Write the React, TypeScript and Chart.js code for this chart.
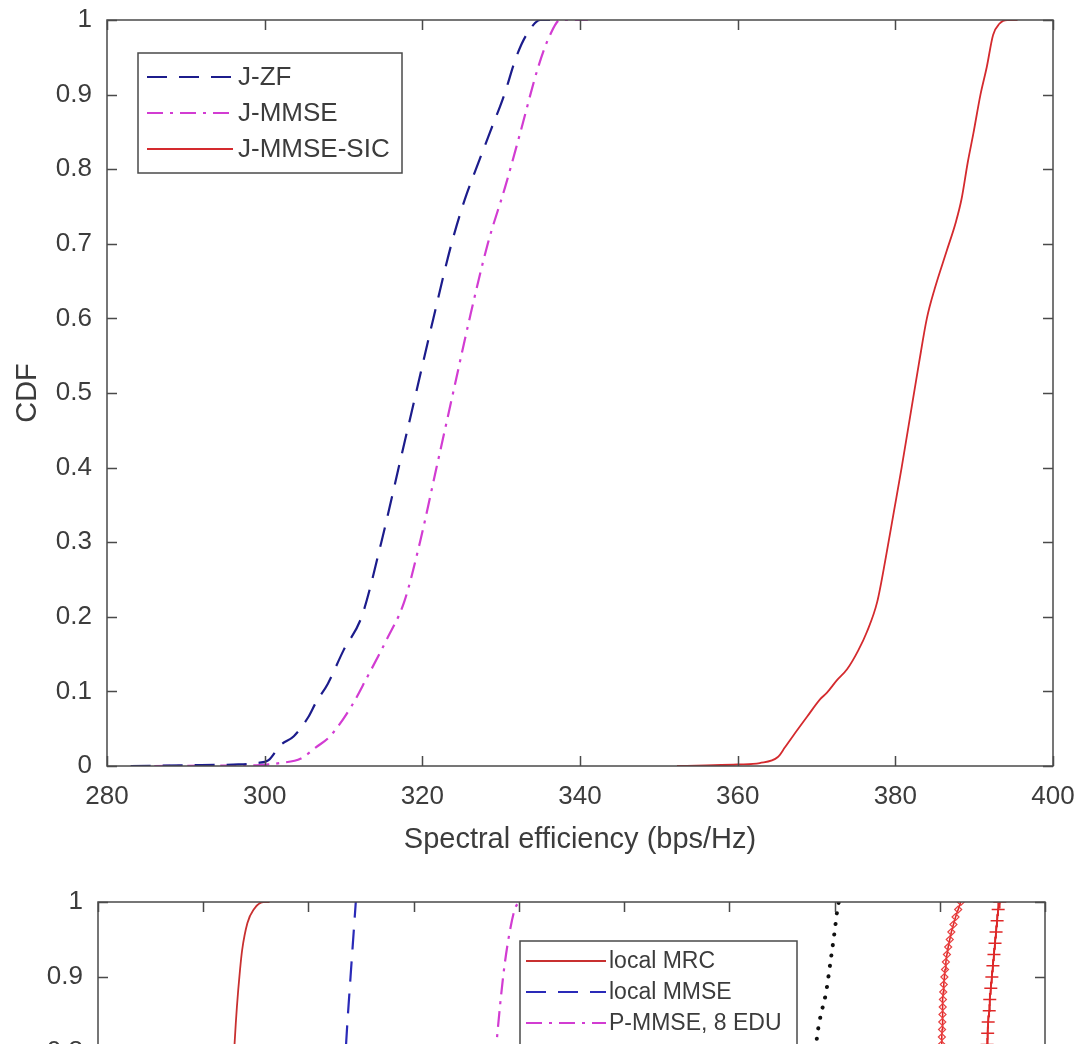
import React, { useEffect, useRef } from 'react';
import { Chart, registerables } from 'chart.js';

Chart.register(...registerables);

const FONT = '"Liberation Sans", Arial, Helvetica, sans-serif';
const TEXT = '#3c3c3c';
const AXIS = '#4a4a4a';

// ---------- Top chart data ----------
const topXTicks = [280, 300, 320, 340, 360, 380, 400];
const cdfTicks = [0, 0.1, 0.2, 0.3, 0.4, 0.5, 0.6, 0.7, 0.8, 0.9, 1];

const jzfSE = [283, 290, 296, 299, 300.5, 302, 303.7, 305.5, 306.5, 308, 310, 312.3, 314.8, 317, 319.2, 321.4, 323.7, 325.4, 326.8, 328.6, 330.4, 331.9, 333.2, 335, 337];
const jzfCDF = [0, 0.001, 0.002, 0.004, 0.008, 0.028, 0.04, 0.065, 0.085, 0.11, 0.155, 0.2, 0.3, 0.4, 0.5, 0.6, 0.7, 0.76, 0.8, 0.85, 0.9, 0.95, 0.98, 1, 1];

const jmmseSE = [286, 293, 299, 302, 304.6, 306.5, 308.3, 311, 312.9, 315.5, 317.7, 319.7, 321.8, 323.9, 326, 328.3, 330.5, 332.4, 334.7, 336.2, 337.5, 341];
const jmmseCDF = [0, 0.0005, 0.001, 0.004, 0.01, 0.025, 0.04, 0.08, 0.117, 0.17, 0.22, 0.3, 0.4, 0.5, 0.6, 0.7, 0.776, 0.848, 0.937, 0.98, 1, 1];

const sicSE = [352.3, 356, 360, 362.8, 365.1, 366, 367, 368.8, 370.5, 371.3, 372.6, 373.9, 375.3, 376.4, 377.7, 378.8, 379.8, 380.8, 381.9, 383, 384, 385, 386.5, 387.7, 388.4, 389.2, 389.9, 390.8, 391.6, 392.4, 393.2, 394.2, 395.5];
const sicCDF = [0, 0.0008, 0.002, 0.004, 0.012, 0.025, 0.04, 0.066, 0.09, 0.098, 0.115, 0.13, 0.155, 0.18, 0.22, 0.28, 0.34, 0.4, 0.47, 0.54, 0.6, 0.64, 0.69, 0.73, 0.76, 0.81, 0.848, 0.9, 0.937, 0.98, 0.995, 1, 1];

// ---------- Bottom chart data ----------
const botXTicks = [0, 10, 20, 30, 40, 50, 60, 70, 80, 90];

const mrcSE = [9.5, 11, 12, 12.6, 13.0, 13.2, 13.5, 13.7, 14.2, 14.8, 15.7, 16.3];
const mrcCDF = [0, 0.1, 0.4, 0.7, 0.816, 0.86, 0.91, 0.936, 0.972, 0.99, 1, 1];

const lmmseSE = [20, 22, 23, 23.6, 24.0, 24.3, 24.5];
const lmmseCDF = [0, 0.3, 0.65, 0.816, 0.9, 0.96, 1];

const pmmseSE = [33, 36, 37.9, 38.5, 39.0, 39.6, 40.0];
const pmmseCDF = [0, 0.5, 0.816, 0.9, 0.95, 0.99, 1];

const dotSE = [64, 67, 68.3, 68.6, 69.2, 69.6, 70.0, 70.3, 70.4];
const dotCDF = [0, 0.6, 0.816, 0.843, 0.88, 0.919, 0.96, 0.993, 1];

const diaSE = [75, 78, 79.5, 80.15, 80.18, 80.2, 80.22, 80.24, 80.26, 80.28, 80.3, 80.33, 80.38, 80.44, 80.5, 80.58, 80.68, 80.8, 80.95, 81.1, 81.3, 81.5, 81.75, 82.0];
const diaCDF = [0, 0.4, 0.7, 0.8, 0.81, 0.82, 0.83, 0.84, 0.85, 0.86, 0.87, 0.88, 0.89, 0.9, 0.91, 0.92, 0.93, 0.94, 0.95, 0.96, 0.97, 0.98, 0.99, 1];

const plusSE = [80, 82.5, 84.4, 84.5, 84.55, 84.6, 84.7, 84.75, 84.85, 84.95, 85.05, 85.15, 85.25, 85.35, 85.45, 85.55, 85.7];
const plusCDF = [0, 0.4, 0.795, 0.81, 0.825, 0.84, 0.855, 0.87, 0.885, 0.9, 0.915, 0.93, 0.945, 0.96, 0.975, 0.99, 1];

const pts = (xs: number[], ys: number[]) => xs.map((x, i) => ({ x, y: ys[i] }));

// ---------- Plugins ----------
const matlabAxes = {
  id: 'matlabAxes',
  afterDatasetsDraw(chart: any, _a: any, opts: any) {
    const { ctx, chartArea: a, scales } = chart;
    const tl = opts.tickLen ?? 10;
    ctx.save();
    ctx.strokeStyle = AXIS;
    ctx.lineWidth = 1.5;
    ctx.setLineDash([]);
    ctx.strokeRect(a.left, a.top, a.right - a.left, a.bottom - a.top);
    ctx.beginPath();
    scales.x.ticks.forEach((t: any) => {
      const p = Math.round(scales.x.getPixelForValue(t.value)) + 0.5;
      ctx.moveTo(p, a.bottom);
      ctx.lineTo(p, a.bottom - tl);
      ctx.moveTo(p, a.top);
      ctx.lineTo(p, a.top + tl);
    });
    scales.y.ticks.forEach((t: any) => {
      const p = Math.round(scales.y.getPixelForValue(t.value)) + 0.5;
      ctx.moveTo(a.left, p);
      ctx.lineTo(a.left + tl, p);
      ctx.moveTo(a.right, p);
      ctx.lineTo(a.right - tl, p);
    });
    ctx.stroke();
    ctx.restore();
  },
};

const boxLegend = {
  id: 'boxLegend',
  afterDraw(chart: any, _a: any, o: any) {
    if (!o || !o.show) return;
    const { ctx } = chart;
    const items = chart.data.datasets.filter((d: any) => d.label);
    const rows = o.rows ?? items.length;
    const h = o.padTop * 2 + (rows - 1) * o.rowHeight;
    ctx.save();
    ctx.fillStyle = '#fff';
    ctx.fillRect(o.x, o.y, o.w, h);
    ctx.strokeStyle = AXIS;
    ctx.lineWidth = 1.5;
    ctx.strokeRect(o.x, o.y, o.w, h);
    ctx.font = `${o.fontSize}px ${FONT}`;
    ctx.textBaseline = 'middle';
    ctx.textAlign = 'left';
    items.forEach((d: any, i: number) => {
      const cy = o.y + o.padTop + i * o.rowHeight;
      ctx.strokeStyle = d.borderColor;
      ctx.lineWidth = d.borderWidth;
      ctx.lineCap = d.borderCapStyle || 'butt';
      ctx.setLineDash(d.borderDash || []);
      ctx.beginPath();
      ctx.moveTo(o.x + o.sampleStart, cy);
      ctx.lineTo(o.x + o.sampleStart + o.sampleLen, cy);
      ctx.stroke();
      ctx.setLineDash([]);
      ctx.fillStyle = TEXT;
      ctx.fillText(d.label, o.x + o.textX, cy + 1);
    });
    ctx.restore();
  },
};

const noOverflow = (s: any) => {
  s.paddingTop = 0;
  s.paddingBottom = 0;
  s.paddingLeft = 0;
  s.paddingRight = 0;
};

function makeScales(xTicks: number[], xMin: number, xMax: number, yWidth: number, xHeight: number, xTitle: string, xTitlePad: number, yTitlePad: number, tickFont: number, titleFont: number, xTickPad: number) {
  return {
    x: {
      type: 'linear',
      min: xMin,
      max: xMax,
      afterBuildTicks: (s: any) => { s.ticks = xTicks.map((v) => ({ value: v })); },
      afterFit: (s: any) => { s.height = xHeight; noOverflow(s); },
      grid: { display: false, drawTicks: false },
      border: { display: false },
      ticks: { font: { family: FONT, size: tickFont }, color: TEXT, padding: xTickPad, maxRotation: 0, autoSkip: false, callback: (v: any) => String(v) },
      title: { display: !!xTitle, text: xTitle, font: { family: FONT, size: titleFont }, color: TEXT, padding: { top: 0, bottom: xTitlePad } },
    },
    y: {
      type: 'linear',
      min: 0,
      max: 1,
      afterBuildTicks: (s: any) => { s.ticks = cdfTicks.map((v) => ({ value: v })); },
      afterFit: (s: any) => { s.width = yWidth; noOverflow(s); },
      grid: { display: false, drawTicks: false },
      border: { display: false },
      ticks: { font: { family: FONT, size: tickFont }, color: TEXT, padding: 15, autoSkip: false, callback: (v: any) => String(v) },
      title: { display: true, text: 'CDF', font: { family: FONT, size: titleFont }, color: TEXT, padding: { top: yTitlePad, bottom: 0 } },
    },
  };
}

function topConfig(): any {
  return {
    type: 'line',
    data: {
      datasets: [
        { label: 'J-ZF', data: pts(jzfSE, jzfCDF), borderColor: '#1c1c8c', borderWidth: 2.2, borderDash: [20, 12], pointRadius: 0, cubicInterpolationMode: 'monotone', fill: false },
        { label: 'J-MMSE', data: pts(jmmseSE, jmmseCDF), borderColor: '#d23cd2', borderWidth: 2.2, borderDash: [16, 7, 3, 7], pointRadius: 0, cubicInterpolationMode: 'monotone', fill: false },
        { label: 'J-MMSE-SIC', data: pts(sicSE, sicCDF), borderColor: '#d42a2e', borderWidth: 1.8, pointRadius: 0, cubicInterpolationMode: 'monotone', fill: false },
      ],
    },
    options: {
      animation: false,
      responsive: false,
      devicePixelRatio: 1,
      events: [],
      layout: { padding: { top: 20, right: 26, left: 0, bottom: 0 } },
      scales: makeScales(topXTicks, 280, 400, 107, 104, 'Spectral efficiency (bps/Hz)', 13, 11, 26, 29, 15),
      plugins: {
        legend: { display: false },
        tooltip: { enabled: false },
        matlabAxes: { tickLen: 10 },
        boxLegend: { show: true, x: 138, y: 53, w: 264, padTop: 24, rowHeight: 36, sampleStart: 9, sampleLen: 86, textX: 100, fontSize: 26 },
      },
    },
    plugins: [matlabAxes, boxLegend],
  };
}

function bottomConfig(): any {
  return {
    type: 'line',
    data: {
      datasets: [
        { label: 'local MRC', data: pts(mrcSE, mrcCDF), borderColor: '#c83030', borderWidth: 1.8, pointRadius: 0, cubicInterpolationMode: 'monotone', fill: false },
        { label: 'local MMSE', data: pts(lmmseSE, lmmseCDF), borderColor: '#2a2ab8', borderWidth: 2.2, borderDash: [20, 12], pointRadius: 0, cubicInterpolationMode: 'monotone', fill: false },
        { label: 'P-MMSE, 8 EDU', data: pts(pmmseSE, pmmseCDF), borderColor: '#d23cd2', borderWidth: 2.2, borderDash: [16, 7, 3, 7], pointRadius: 0, cubicInterpolationMode: 'monotone', fill: false },
        { data: pts(dotSE, dotCDF), borderColor: '#111', borderWidth: 4, borderDash: [0.1, 10.5], borderCapStyle: 'round', pointRadius: 0, cubicInterpolationMode: 'monotone', fill: false },
        { data: pts(diaSE, diaCDF), borderColor: '#e02828', borderWidth: 1.6, pointStyle: 'rectRot', pointRadius: 3.5, pointBorderWidth: 1.2, pointBackgroundColor: 'rgba(0,0,0,0)', pointBorderColor: '#e84040', fill: false },
        { data: pts(plusSE, plusCDF), borderColor: '#c82020', borderWidth: 1.8, pointStyle: 'cross', pointRadius: 6.5, pointBorderWidth: 1.6, pointBorderColor: '#e02828', fill: false },
      ],
    },
    options: {
      animation: false,
      responsive: false,
      devicePixelRatio: 1,
      events: [],
      layout: { padding: { top: 32, right: 34, left: 0, bottom: 0 } },
      scales: makeScales(botXTicks, 0, 90, 98, 118, 'Spectral efficiency (bps/Hz)', 13, 11, 26, 29, 15),
      plugins: {
        legend: { display: false },
        tooltip: { enabled: false },
        matlabAxes: { tickLen: 10 },
        boxLegend: { show: true, x: 520, y: 941, w: 277, rows: 6, padTop: 20, rowHeight: 31, sampleStart: 6, sampleLen: 80, textX: 89, fontSize: 23 },
      },
    },
    plugins: [matlabAxes, boxLegend],
  };
}

function CdfCanvas({ make, top, width, height }: { make: () => any; top: number; width: number; height: number }) {
  const ref = useRef<HTMLCanvasElement>(null);
  useEffect(() => {
    const cfg = make();
    const lg = cfg.options.plugins.boxLegend;
    if (lg) lg.y -= top;
    const chart = new Chart(ref.current as HTMLCanvasElement, cfg);
    return () => chart.destroy();
  }, []);
  return (
    <canvas
      ref={ref}
      width={width}
      height={height}
      style={{ position: 'absolute', left: 0, top, width, height, display: 'block' }}
    />
  );
}

export default function App() {
  return (
    <div style={{ position: 'absolute', left: 0, top: 0, width: 1079, height: 1044, overflow: 'hidden', background: '#fff' }}>
      <CdfCanvas make={topConfig} top={0} width={1079} height={870} />
      <CdfCanvas make={bottomConfig} top={870} width={1079} height={900} />
    </div>
  );
}
